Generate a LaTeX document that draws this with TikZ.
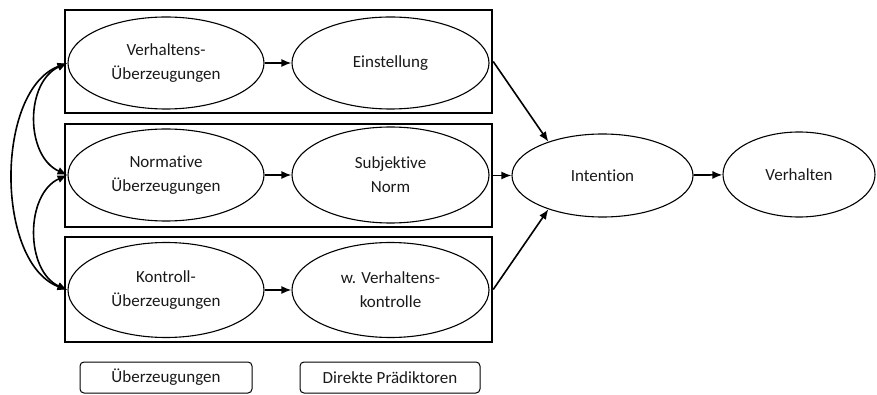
\documentclass[tikz,border=0pt]{standalone}
\usepackage{fontspec}
\setmainfont{Carlito}[Ligatures=NoCommon]
\usetikzlibrary{shapes.geometric,arrows.meta}
\begin{document}
\begin{tikzpicture}[x=1pt,y=-1pt,
  txt/.style={font=\fontsize{17}{24}\selectfont, text=black!90, align=center},
  ell/.style={ellipse, draw, line width=1.1pt, inner sep=0pt, txt},
  grp/.style={draw, line width=2.4pt, inner sep=0pt},
  leg/.style={draw, line width=1pt, rounded corners=4pt, inner sep=0pt, txt},
  arr/.style={line width=1.6pt, -{Latex[length=10pt,width=8pt]}},
  darr/.style={line width=1.6pt, {Latex[length=10pt,width=8pt]}-{Latex[length=10pt,width=8pt]}}]
\useasboundingbox (0,0) rectangle (877,395);
% group boxes
\node[grp, minimum width=427pt, minimum height=103pt] (b1) at (278.5,61.5) {};
\node[grp, minimum width=427pt, minimum height=103pt] (b2) at (278.5,175.5) {};
\node[grp, minimum width=427pt, minimum height=105pt] (b3) at (278.5,289.5) {};
% ellipses
\node[ell, minimum width=196pt, minimum height=92pt] (v1) at (166,63) {Verhaltens-\\Überzeugungen};
\node[ell, minimum width=196pt, minimum height=92pt] (v2) at (166,175) {Normative\\Überzeugungen};
\node[ell, minimum width=196pt, minimum height=95pt] (v3) at (166,290) {Kontroll-\\Überzeugungen};
\node[ell, minimum width=197pt, minimum height=92pt] (p1) at (390.5,63) {Einstellung};
\node[ell, minimum width=197pt, minimum height=96pt] (p2) at (390.5,175) {Subjektive\\Norm};
\node[ell, minimum width=197pt, minimum height=95pt] (p3) at (390.5,290) {w. Verhaltens-\\kontrolle};
\node[ell, minimum width=181pt, minimum height=83pt] (int) at (602.5,175.5) {Intention};
\node[ell, minimum width=152pt, minimum height=85pt] (ver) at (799,174.5) {Verhalten};
% legend
\node[leg, minimum width=172pt, minimum height=31pt] (l1) at (166,377.5) {Überzeugungen};
\node[leg, minimum width=180pt, minimum height=31pt] (l2) at (390,377.5) {Direkte Prädiktoren};
% arrows
\draw[arr] (v1) -- (p1);
\draw[arr] (v2) -- (p2);
\draw[arr] (v3) -- (p3);
\draw[arr] (b1.east) -- (int.148);
\draw[arr] (b2.east) -- (int.west);
\draw[arr] (b3.east) -- (int.212);
\draw[arr] (int) -- (ver);
% correlations
\draw[darr] (v1.west) .. controls (25,82) and (25,156) .. (v2.west);
\draw[darr] (v2.west) .. controls (25,194) and (25,271) .. (v3.west);
\draw[darr] (v1.west) .. controls (-5,90) and (-5,263) .. (v3.west);
\end{tikzpicture}
\end{document}
